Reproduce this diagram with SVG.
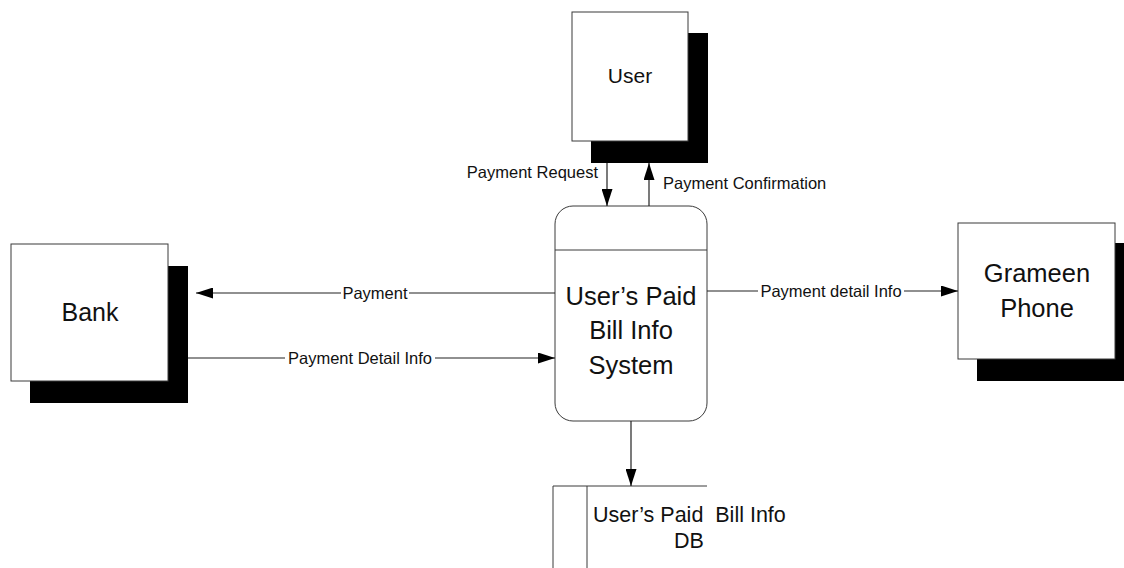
<svg xmlns="http://www.w3.org/2000/svg" width="1124" height="568" viewBox="0 0 1124 568">
  <style>
    .box { fill: #ffffff; stroke: #3a3a3a; stroke-width: 1; }
    .shadow { fill: #000000; stroke: none; }
    .txt { font-family: "Liberation Sans", Arial, sans-serif; fill: #111111; }
    .lbl { font-family: "Liberation Sans", Arial, sans-serif; font-size: 16.5px; fill: #111111; }
    .gap { fill: #ffffff; stroke: none; }
    .flow { stroke: #222222; stroke-width: 1.2; fill: none; marker-end: url(#head); }
    .store { stroke: #3a3a3a; stroke-width: 1; fill: none; }
  </style>
  <defs>
    <marker id="head" markerWidth="17" markerHeight="11" refX="17" refY="5.5" orient="auto" markerUnits="userSpaceOnUse">
      <path d="M0,0 L17,5.5 L0,11 Z" fill="#000000"/>
    </marker>
  </defs>

  <rect width="1124" height="568" fill="#ffffff"/>

  <!-- external entity: User -->
  <g id="user">
    <rect class="shadow" x="591" y="33" width="117" height="130"/>
    <rect class="box" x="572" y="12" width="116" height="129"/>
    <text class="txt" x="630" y="83" font-size="21" text-anchor="middle">User</text>
  </g>

  <!-- external entity: Bank -->
  <g id="bank">
    <rect class="shadow" x="30" y="266" width="158" height="137"/>
    <rect class="box" x="11" y="244" width="157" height="137"/>
    <text class="txt" x="90" y="321" font-size="25" text-anchor="middle">Bank</text>
  </g>

  <!-- external entity: Grameen Phone -->
  <g id="grameen">
    <rect class="shadow" x="977" y="243" width="160" height="138"/>
    <rect class="box" x="958" y="223" width="157" height="136"/>
    <text class="txt" x="1037" y="282" font-size="25.5" text-anchor="middle">Grameen</text>
    <text class="txt" x="1037" y="317" font-size="25.5" text-anchor="middle">Phone</text>
  </g>

  <!-- process -->
  <g id="process">
    <rect class="box" x="555" y="206" width="152" height="215" rx="18" ry="18"/>
    <line x1="555" y1="250" x2="707" y2="250" stroke="#3a3a3a" stroke-width="1"/>
    <text class="txt" x="631" y="305" font-size="25.5" text-anchor="middle">User’s Paid</text>
    <text class="txt" x="631" y="339" font-size="25.5" text-anchor="middle">Bill Info</text>
    <text class="txt" x="631" y="374" font-size="25.5" text-anchor="middle">System</text>
  </g>

  <!-- data store -->
  <g id="datastore">
    <path class="store" d="M707,486 H553 V568"/>
    <line class="store" x1="587" y1="486" x2="587" y2="568"/>
    <text class="txt" x="593" y="522" font-size="21.5" xml:space="preserve">User’s Paid  Bill Info</text>
    <text class="txt" x="674" y="548" font-size="21.5">DB</text>
  </g>

  <!-- data flows -->
  <g id="connectors">
    <line class="flow" x1="607" y1="163" x2="607" y2="206"/>
    <line class="flow" x1="649" y1="206" x2="649" y2="163"/>
    <line class="flow" x1="555" y1="293" x2="196" y2="293"/>
    <line class="flow" x1="188" y1="358" x2="555" y2="358"/>
    <line class="flow" x1="707" y1="291" x2="958" y2="291"/>
    <line class="flow" x1="631" y1="421" x2="631" y2="486"/>

    <!-- white backing so the flow lines break around their labels -->
    <rect class="gap" x="341" y="285" width="68" height="16"/>
    <rect class="gap" x="285" y="350" width="150" height="16"/>
    <rect class="gap" x="758" y="283" width="146" height="16"/>

    <text class="lbl" x="598" y="178" text-anchor="end">Payment Request</text>
    <text class="lbl" x="663" y="189">Payment Confirmation</text>
    <text class="lbl" x="375" y="299" text-anchor="middle">Payment</text>
    <text class="lbl" x="360" y="364" text-anchor="middle">Payment Detail Info</text>
    <text class="lbl" x="831" y="297" text-anchor="middle">Payment detail Info</text>
  </g>
</svg>
